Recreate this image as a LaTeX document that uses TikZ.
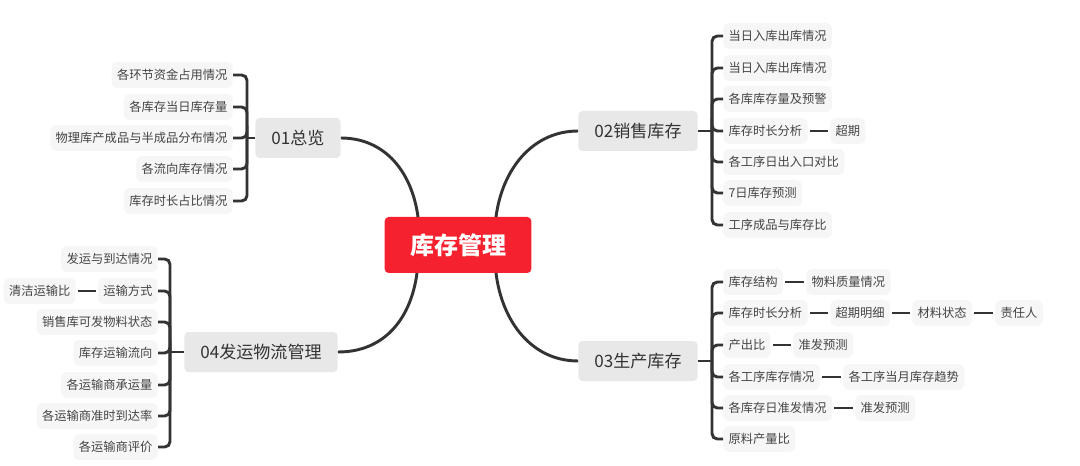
\documentclass[tikz,border=0pt]{standalone}
\usepackage{fontspec}
\setmainfont{Noto Sans CJK SC}
\definecolor{cred}{RGB}{246,33,46}
\definecolor{mgray}{RGB}{232,232,232}
\definecolor{lgray}{RGB}{246,246,246}
\definecolor{lin}{RGB}{51,51,51}
\definecolor{txt}{RGB}{68,68,68}
\tikzset{
  root/.style={fill=cred,text=white,rounded corners=3pt,inner xsep=19pt,minimum height=42pt,font=\fontsize{18}{20}\selectfont\bfseries},
  topic/.style={fill=mgray,text=lin,rounded corners=3pt,inner xsep=12pt,minimum height=30pt,font=\fontsize{12.8}{14}\selectfont},
  leaf/.style={fill=lgray,text=txt,rounded corners=4pt,inner xsep=4pt,minimum height=19.5pt,font=\fontsize{9.2}{11}\selectfont},
  conn/.style={draw=lin,line width=2.2pt},
  br/.style={draw=lin,line width=2.2pt,rounded corners=4pt},
  sib/.style={draw=lin,line width=2.2pt,shorten <=1.5pt,shorten >=1.5pt},
}
\begin{document}
\begin{tikzpicture}[x=0.75pt,y=-0.75pt]
\useasboundingbox (0,0) rectangle (1080,466);
% root
\node[root] (c) at (458,245) {库存管理};
% topics
\node[topic] (t1) at (298,138) {01总览};
\node[topic] (t2) at (638,131) {02销售库存};
\node[topic] (t3) at (638,361) {03生产库存};
\node[topic] (t4) at (261,352) {04发运物流管理};
% attach points on root
\coordinate (ctl) at (418,217);
\coordinate (ctr) at (496,217);
\coordinate (cbl) at (417,273);
\coordinate (cbr) at (496,273);
\draw[conn] (t1.east) .. controls (385,138) and (412,172) .. (ctl);
\draw[conn] (t2.west) .. controls (532,131) and (502,170) .. (ctr);
\draw[conn] (t4.east) .. controls (385,352) and (411,318) .. (cbl);
\draw[conn] (t3.west) .. controls (532,361) and (502,322) .. (cbr);

% 01 children
\node[leaf,anchor=east] (a1) at (233,75) {各环节资金占用情况};
\node[leaf,anchor=east] (a2) at (233,107) {各库存当日库存量};
\node[leaf,anchor=east] (a3) at (233,138) {物理库产成品与半成品分布情况};
\node[leaf,anchor=east] (a4) at (233,169) {各流向库存情况};
\node[leaf,anchor=east] (a5) at (233,201) {库存时长占比情况};
\coordinate (b1) at (247,138);
\draw[conn] (t1.west) -- (b1);
\foreach \n in {a1,a2,a3,a4,a5} {\draw[br] (b1) |- (\n.east);}

% 04 children
\node[leaf,anchor=east] (d1) at (158,259) {发运与到达情况};
\node[leaf,anchor=east] (d2) at (158,291) {运输方式};
\node[leaf,anchor=east] (d3) at (158,322) {销售库可发物料状态};
\node[leaf,anchor=east] (d4) at (158,353) {库存运输流向};
\node[leaf,anchor=east] (d5) at (158,385) {各运输商承运量};
\node[leaf,anchor=east] (d6) at (158,416) {各运输商准时到达率};
\node[leaf,anchor=east] (d7) at (158,447) {各运输商评价};
\node[leaf,anchor=east] (d2a) at (76,291) {清洁运输比};
\draw[sib] (d2a.east) -- (d2.west);
\coordinate (b4) at (170,352);
\draw[conn] (t4.west) -- (b4);
\foreach \n in {d1,d2,d3,d4,d5,d6,d7} {\draw[br] (b4) |- (\n.east);}

% 02 children
\node[leaf,anchor=west] (s1) at (723,36) {当日入库出库情况};
\node[leaf,anchor=west] (s2) at (723,68) {当日入库出库情况};
\node[leaf,anchor=west] (s3) at (723,99) {各库库存量及预警};
\node[leaf,anchor=west] (s4) at (723,131) {库存时长分析};
\node[leaf,anchor=west] (s5) at (723,162) {各工序日出入口对比};
\node[leaf,anchor=west] (s6) at (723,193) {7日库存预测};
\node[leaf,anchor=west] (s7) at (723,225) {工序成品与库存比};
\node[leaf,anchor=west] (s4a) at (830,131) {超期};
\draw[sib] (s4.east) -- (s4a.west);
\coordinate (b2) at (712,131);
\draw[conn] (t2.east) -- (b2);
\foreach \n in {s1,s2,s3,s4,s5,s6,s7} {\draw[br] (b2) |- (\n.west);}

% 03 children
\node[leaf,anchor=west] (p1) at (723,282) {库存结构};
\node[leaf,anchor=west] (p2) at (723,313) {库存时长分析};
\node[leaf,anchor=west] (p3) at (723,345) {产出比};
\node[leaf,anchor=west] (p4) at (723,377) {各工序库存情况};
\node[leaf,anchor=west] (p5) at (723,408) {各库存日准发情况};
\node[leaf,anchor=west] (p6) at (723,439) {原料产量比};
\node[leaf,anchor=west] (p1a) at (806,282) {物料质量情况};
\node[leaf,anchor=west] (p2a) at (830,313) {超期明细};
\node[leaf,anchor=west] (p2b) at (912,313) {材料状态};
\node[leaf,anchor=west] (p2c) at (995,313) {责任人};
\node[leaf,anchor=west] (p3a) at (793,345) {准发预测};
\node[leaf,anchor=west] (p4a) at (843,377) {各工序当月库存趋势};
\node[leaf,anchor=west] (p5a) at (855,408) {准发预测};
\draw[sib] (p1.east) -- (p1a.west);
\draw[sib] (p2.east) -- (p2a.west);
\draw[sib] (p2a.east) -- (p2b.west);
\draw[sib] (p2b.east) -- (p2c.west);
\draw[sib] (p3.east) -- (p3a.west);
\draw[sib] (p4.east) -- (p4a.west);
\draw[sib] (p5.east) -- (p5a.west);
\coordinate (b3) at (712,361);
\draw[conn] (t3.east) -- (b3);
\foreach \n in {p1,p2,p3,p4,p5,p6} {\draw[br] (b3) |- (\n.west);}
\end{tikzpicture}
\end{document}
